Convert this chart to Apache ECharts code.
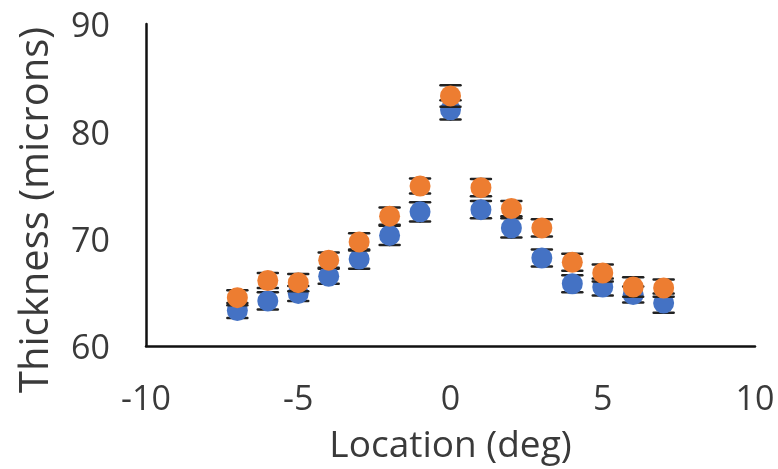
<!DOCTYPE html>
<html>
<head>
<meta charset="utf-8">
<script src="https://cdn.jsdelivr.net/npm/echarts@6/dist/echarts.min.js"></script>
<style>
html,body{margin:0;padding:0;background:#fff;}
#chart{width:778px;height:469px;}
</style>
</head>
<body>
<div id="chart"></div>
<script>
var locations = [-7, -6, -5, -4, -3, -2, -1, 0, 1, 2, 3, 4, 5, 6, 7];
var blueValues = [63.3, 64.2, 64.9, 66.5, 68.1, 70.3, 72.5, 82.0, 72.7, 71.0, 68.2, 65.8, 65.5, 64.8, 64.0];
var blueErrors = [0.7, 0.8, 0.7, 0.7, 0.9, 0.9, 0.9, 0.9, 0.8, 0.9, 0.8, 0.8, 0.8, 0.75, 0.9];
var orangeValues = [64.5, 66.1, 65.9, 68.0, 69.7, 72.1, 74.9, 83.3, 74.75, 72.8, 71.0, 67.8, 66.8, 65.5, 65.4];
var orangeErrors = [0.7, 0.7, 0.8, 0.7, 0.8, 0.8, 0.7, 1.0, 0.8, 0.7, 0.8, 0.8, 0.8, 0.9, 0.8];
var xTicks = [-10, -5, 0, 5, 10];
var yTicks = [60, 70, 80, 90];

var BLUE = '#4472C4', ORANGE = '#ED7D31', TEXT = '#3a3a3a';
var FONT = 'Open Sans';

function pts(vals, errs) {
  return locations.map(function (x, i) { return [x, vals[i], errs ? errs[i] : 0]; });
}

function errRender(params, api) {
  var x = api.value(0), y = api.value(1), e = api.value(2);
  var top = api.coord([x, y + e]);
  var bot = api.coord([x, y - e]);
  var hw = 10;
  var style = { stroke: '#222', lineWidth: 2.5, lineCap: 'round' };
  return {
    type: 'group',
    children: [
      { type: 'line', shape: { x1: top[0], y1: top[1], x2: bot[0], y2: bot[1] }, style: style },
      { type: 'line', shape: { x1: top[0] - hw, y1: top[1], x2: top[0] + hw, y2: top[1] }, style: style },
      { type: 'line', shape: { x1: bot[0] - hw, y1: bot[1], x2: bot[0] + hw, y2: bot[1] }, style: style }
    ]
  };
}

var chart = echarts.init(document.getElementById('chart'), null, { renderer: 'canvas' });
chart.setOption({
  animation: false,
  backgroundColor: '#fff',
  grid: { left: 146, top: 24, right: 23, bottom: 123, containLabel: false, outerBoundsMode: 'none' },
  xAxis: {
    type: 'value', min: xTicks[0], max: xTicks[xTicks.length - 1], interval: 5,
    name: 'Location (deg)', nameLocation: 'middle', nameGap: 82,
    nameTextStyle: { fontFamily: FONT, fontSize: 37, color: TEXT },
    axisLine: { show: true, onZero: false, lineStyle: { color: '#111', width: 2.5 } },
    axisTick: { show: false },
    splitLine: { show: false },
    axisLabel: { fontFamily: FONT, fontSize: 34, color: TEXT, margin: 37 }
  },
  yAxis: {
    type: 'value', min: yTicks[0], max: yTicks[yTicks.length - 1], interval: 10,
    name: 'Thickness (microns)', nameLocation: 'middle', nameGap: 89,
    nameTextStyle: { fontFamily: FONT, fontSize: 40, color: TEXT, padding: [0, 50, 0, 0] },
    axisLine: { show: true, onZero: false, lineStyle: { color: '#111', width: 2.5 } },
    axisTick: { show: false },
    splitLine: { show: false },
    axisLabel: {
      fontFamily: FONT, fontSize: 34, color: TEXT, margin: 36,
      formatter: function (v) { return '{a|' + v + '}'; },
      rich: { a: { fontFamily: FONT, fontSize: 34, color: TEXT, padding: [7, 0, 0, 0] } }
    }
  },
  series: [
    { type: 'custom', name: 'blueErr', renderItem: errRender, data: pts(blueValues, blueErrors), z: 1, encode: { x: 0, y: 1 } },
    { type: 'scatter', name: 'blue', data: pts(blueValues), symbolSize: 21, itemStyle: { color: BLUE, opacity: 1 }, z: 2 },
    { type: 'custom', name: 'orangeErr', renderItem: errRender, data: pts(orangeValues, orangeErrors), z: 3, encode: { x: 0, y: 1 } },
    { type: 'scatter', name: 'orange', data: pts(orangeValues), symbolSize: 21, itemStyle: { color: ORANGE, opacity: 1 }, z: 4 }
  ]
});
</script>
</body>
</html>
